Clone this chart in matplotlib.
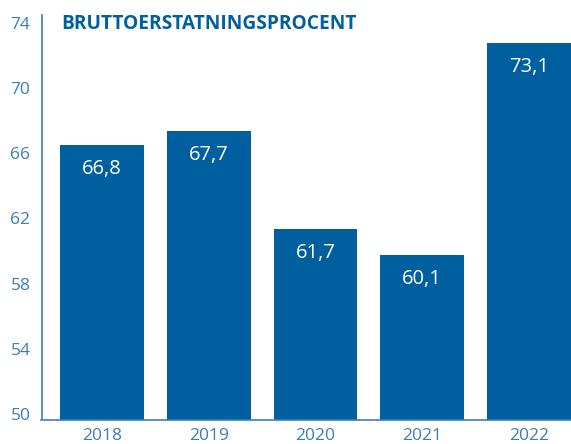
import matplotlib
matplotlib.use('Agg')
import matplotlib.pyplot as plt
import matplotlib.transforms as mtransforms

years = ['2018', '2019', '2020', '2021', '2022']
values = [66.8, 67.7, 61.7, 60.1, 73.1]
labels = ['66,8', '67,7', '61,7', '60,1', '73,1']
yticks = [50, 54, 58, 62, 66, 70, 74]

bar_col = '#00609F'
tick_col = '#3B7DB9'

plt.rcParams['font.family'] = ['Open Sans', 'DejaVu Sans']

fig = plt.figure(figsize=(5.71, 4.44), dpi=100)
ax = fig.add_axes([41.5/571, 1-419.5/444, (571-41.5)/571, (419.5-15)/444])
x = range(len(years))
ax.bar(x, values, width=0.785, color=bar_col, zorder=2)
for i, (v, lab) in enumerate(zip(values, labels)):
    ax.annotate(lab, (i, v), xytext=(0, -24), textcoords='offset pixels',
                ha='center', va='center', color='white', fontsize=14.5)
ax.set_ylim(50, 74.8)
ax.set_xlim(-0.565, 4.393)
ax.set_yticks(yticks)
ax.set_xticks(list(x))
ax.set_xticklabels(years)
ax.tick_params(length=0, colors=tick_col, labelsize=12.5)
ax.tick_params(axis='y', pad=8)
ax.tick_params(axis='x', pad=6)
shift = mtransforms.ScaledTranslation(0, 5.5/100, fig.dpi_scale_trans)
for t in ax.get_yticklabels():
    t.set_transform(t.get_transform() + shift)
for s in ['top', 'right']:
    ax.spines[s].set_visible(False)
for s in ['left', 'bottom']:
    ax.spines[s].set_color('#3D7DB5')
    ax.spines[s].set_linewidth(1.2)
fig.text(61/571, 1-24/444, 'BRUTTOERSTATNINGSPROCENT', color='#00609F',
         fontsize=13.8, fontweight='bold', va='center', ha='left')
fig.savefig('out.png', dpi=100)
